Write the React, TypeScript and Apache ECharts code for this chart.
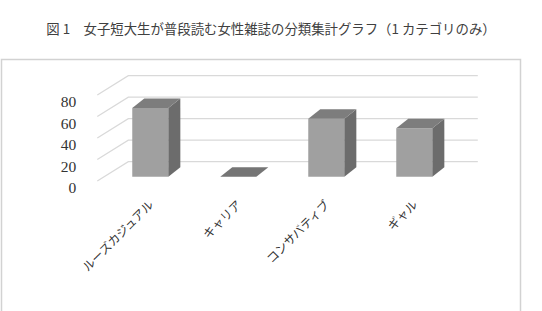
import React, { useEffect, useRef } from "react";
import * as echarts from "echarts";

const titleText = "図 1　女子短大生が普段読む女性雑誌の分類集計グラフ（1 カテゴリのみ）";
const categories = ["ルーズカジュアル", "キャリア", "コンサバティブ", "ギャル"];
const values = [64, 0, 54, 45];
const yTicks = [0, 20, 40, 60, 80];

const BAR_DX = 12;
const BAR_DY = -9.5;
const BACK_L = [22, -15];
const BACK_R = [19.5, -15];
const FRONT = [-9, 4.3];

export default function App() {
  const ref = useRef<HTMLDivElement>(null);
  useEffect(() => {
    if (!ref.current) return;
    const chart = echarts.init(ref.current, null, { renderer: "svg" });
    const option: any = {
      animation: false,
      backgroundColor: "#ffffff",
      title: {
        text: titleText,
        left: "center",
        top: 16,
        textStyle: {
          fontFamily: "Noto Sans CJK JP",
          fontSize: 13.4,
          fontWeight: "normal",
          color: "#404040",
        },
      },
      graphic: [
        {
          type: "rect",
          z: -10,
          shape: { x: 1.5, y: 59.5, width: 519, height: 260 },
          style: { fill: "none", stroke: "#d2d2d2", lineWidth: 1.5 },
        },
      ],
      grid: { left: 106.3, right: 83.7, top: 90.7, bottom: 134.3 },
      xAxis: {
        type: "category",
        data: categories,
        axisLine: { show: false },
        axisTick: { show: false },
        splitLine: { show: false },
        axisLabel: {
          rotate: 45,
          margin: 25,
          interval: 0,
          fontFamily: "Noto Sans CJK JP",
          fontSize: 12,
          color: "#333333",
        },
      },
      yAxis: {
        type: "value",
        min: 0,
        max: 80,
        interval: 20,
        axisLine: { show: false },
        axisTick: { show: false },
        splitLine: { show: false },
        axisLabel: {
          margin: 30,
          verticalAlign: "top",
          padding: [3, 0, 0, 0],
          fontFamily: "Liberation Serif",
          fontSize: 15.5,
          color: "#333333",
        },
      },
      series: [
        {
          type: "custom",
          z: 1,
          data: yTicks.map((v) => [0, v]),
          renderItem: (params: any, api: any) => {
            const v = api.value(1);
            const band = api.size([1, 0])[0];
            const l = api.coord([0, v]);
            const r = api.coord([categories.length - 1, v]);
            const lx = l[0] - band / 2;
            const rx = r[0] + band / 2;
            const y = l[1];
            return {
              type: "polyline",
              shape: {
                points: [
                  [lx + FRONT[0], y + FRONT[1]],
                  [lx + BACK_L[0], y + BACK_L[1]],
                  [rx + BACK_R[0], y + BACK_R[1]],
                ],
              },
              style: { stroke: "#d9d9d9", lineWidth: 1.2, fill: "none" },
            };
          },
        },
        {
          type: "custom",
          z: 2,
          data: values.map((v, i) => [i, v]),
          renderItem: (params: any, api: any) => {
            const idx = api.value(0);
            const v = api.value(1);
            const base = api.coord([idx, 0]);
            const top = api.coord([idx, v]);
            const bw = api.size([1, 0])[0] * 0.41;
            const x0 = base[0] - bw / 2;
            const x1 = base[0] + bw / 2;
            const yb = base[1];
            const yt = top[1];
            const children: any[] = [];
            if (v > 0) {
              children.push({
                type: "rect",
                shape: { x: x0, y: yt, width: bw, height: yb - yt },
                style: { fill: "#a0a0a0" },
              });
              children.push({
                type: "polygon",
                shape: {
                  points: [
                    [x1, yt],
                    [x1 + BAR_DX, yt + BAR_DY],
                    [x1 + BAR_DX, yb + BAR_DY],
                    [x1, yb],
                  ],
                },
                style: { fill: "#6c6c6c" },
              });
            }
            children.push({
              type: "polygon",
              shape: {
                points: [
                  [x0, yt],
                  [x0 + BAR_DX, yt + BAR_DY],
                  [x1 + BAR_DX, yt + BAR_DY],
                  [x1, yt],
                ],
              },
              style: { fill: v > 0 ? "#7d7d7d" : "#757575" },
            });
            return { type: "group", children };
          },
        },
      ],
    };
    chart.setOption(option);
    return () => chart.dispose();
  }, []);
  return (
    <div
      ref={ref}
      style={{ position: "absolute", left: 0, top: 0, width: 542, height: 311 }}
    />
  );
}
